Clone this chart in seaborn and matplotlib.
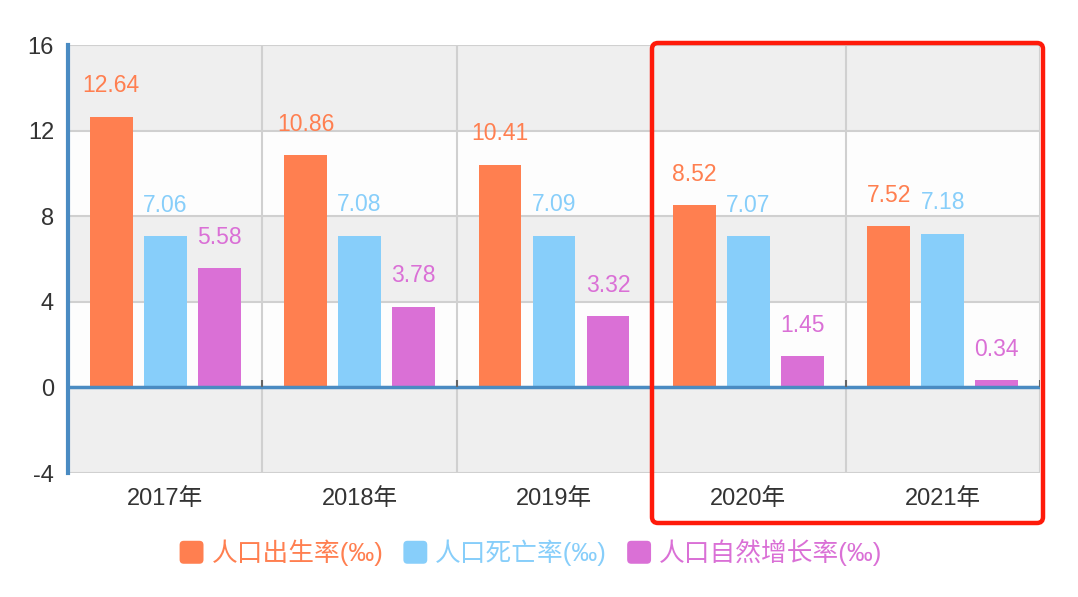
import matplotlib
matplotlib.use("Agg")
import matplotlib.pyplot as plt
import seaborn as sns
import pandas as pd
from matplotlib.patches import FancyBboxPatch
from matplotlib.legend_handler import HandlerPatch
import matplotlib.patches as mpatches

years = ['2017年', '2018年', '2019年', '2020年', '2021年']
series = ['人口出生率(‰)', '人口死亡率(‰)', '人口自然增长率(‰)']
birth = [12.64, 10.86, 10.41, 8.52, 7.52]
death = [7.06, 7.08, 7.09, 7.07, 7.18]
growth = [5.58, 3.78, 3.32, 1.45, 0.34]
colors = ['#ff7f50', '#87cefa', '#da70d6']
yticks = [-4, 0, 4, 8, 12, 16]

rows = []
for s, vals in zip(series, [birth, death, growth]):
    for y, v in zip(years, vals):
        rows.append({'year': y, 'series': s, 'value': v})
df = pd.DataFrame(rows)

FONT = ['Liberation Sans', 'Noto Sans CJK SC', 'DejaVu Sans']
plt.rcParams['font.family'] = FONT

W, H = 1078, 597
fig = plt.figure(figsize=(W / 100, H / 100), dpi=100)
ax = fig.add_axes([68 / W, 1 - 473 / H, (1040 - 68) / W, (473 - 45) / H])

# alternating bands
for i, (lo, hi) in enumerate(zip(yticks[:-1], yticks[1:])):
    ax.axhspan(lo, hi, color='#efefef' if (len(yticks) - 2 - i) % 2 == 0 else '#fdfdfd', zorder=0, lw=0)
for t in yticks:
    ax.axhline(t, color='#d0d0d0', lw=1.5, zorder=0.5)
for k in range(len(years) + 1):
    ax.axvline(k - 0.5, color='#d0d0d0', lw=1.5, zorder=0.5)

sns.barplot(data=df, x='year', y='value', hue='series', palette=colors,
            width=0.834, gap=0.21, ax=ax, legend=False, zorder=2, saturation=1)

for cont, c in zip(ax.containers, colors):
    ax.bar_label(cont, labels=[f'{v:.2f}' for v in cont.datavalues], padding=14,
                 color=c, fontsize=16.5)

ax.axhline(0, color='#4a8bc2', lw=2.5, zorder=3)
for k in range(1, len(years) + 1):
    ax.vlines(k - 0.5, 0, 0.35, color='#666666', lw=1.5, zorder=3)

ax.set_xlim(-0.5, len(years) - 0.5)
ax.set_ylim(-4, 16)
ax.set_yticks(yticks)
ax.set_yticklabels([str(t) for t in yticks])
ax.set_xlabel('')
ax.set_ylabel('')
for side in ['top', 'right', 'bottom']:
    ax.spines[side].set_visible(False)
ax.spines['left'].set_color('#4a8bc2')
ax.spines['left'].set_linewidth(3)
ax.tick_params(axis='y', length=0, labelsize=17, colors='#333333', pad=10)
ax.tick_params(axis='x', length=0, labelsize=17, colors='#333333', pad=11)


class RoundHandler(HandlerPatch):
    def create_artists(self, legend, orig_handle, xdescent, ydescent, width, height, fontsize, trans):
        p = FancyBboxPatch((-xdescent, -ydescent - 2), width, height + 3,
                           boxstyle='round,pad=0,rounding_size=3',
                           facecolor=orig_handle.get_facecolor(), edgecolor='none', transform=trans)
        return [p]


handles = [mpatches.Patch(facecolor=c, label=s) for c, s in zip(colors, series)]
leg = fig.legend(handles=handles, loc='center', bbox_to_anchor=(531 / W, 1 - 552 / H), ncol=3,
                 frameon=False, fontsize=18.5, handlelength=0.93, handleheight=0.75,
                 handletextpad=0.31, columnspacing=0.78,
                 handler_map={mpatches.Patch: RoundHandler()})
for txt, c in zip(leg.get_texts(), colors):
    txt.set_color(c)

# red highlight box
ov = fig.add_axes([0, 0, 1, 1], facecolor='none')
ov.set_xlim(0, W)
ov.set_ylim(H, 0)
ov.axis('off')
ov.add_patch(FancyBboxPatch((652, 43), 1043 - 652, 523 - 43,
                            boxstyle='round,pad=0,rounding_size=6',
                            facecolor='none', edgecolor='#ff1a0a', lw=3.2))

fig.savefig('out.png', dpi=100)
